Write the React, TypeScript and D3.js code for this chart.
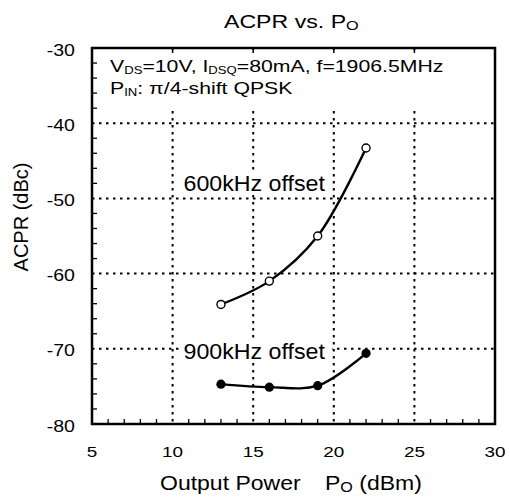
import React from "react";
import * as d3 from "d3";

const xTicks = [5, 10, 15, 20, 25, 30];
const yTicks = [-30, -40, -50, -60, -70, -80];
const po600 = [13, 16, 19, 22];
const acpr600 = [-64.1, -61.0, -55.0, -43.3];
const po900 = [13, 16, 19, 22];
const acpr900 = [-74.7, -75.1, -74.9, -70.6];

const FONT = "'Liberation Sans', Arial, Helvetica, sans-serif";

const X0 = 92, X1 = 495, Y0 = 48, Y1 = 424;

function SText(props: any) {
  const { x, y, sx = 1, anchor = "start", size, children } = props;
  return (
    <g transform={`translate(${x},${y}) scale(${sx},1)`}>
      <text textAnchor={anchor} fontSize={size} fontFamily={FONT} fill="#000">
        {children}
      </text>
    </g>
  );
}

export default function App() {
  const x = d3.scaleLinear().domain([5, 30]).range([X0, X1]);
  const y = d3.scaleLinear().domain([-80, -30]).range([Y1, Y0]);
  const line = d3
    .line<[number, number]>()
    .x((d) => x(d[0]))
    .y((d) => y(d[1]))
    .curve(d3.curveCatmullRom.alpha(0.5));
  const d600 = po600.map((p, i) => [p, acpr600[i]] as [number, number]);
  const d900 = po900.map((p, i) => [p, acpr900[i]] as [number, number]);
  const xMinor = d3.range(6, 30, 1).filter((v) => v % 5 !== 0);
  const yMinor = d3.range(-78, -30, 2).filter((v) => v % 10 !== 0);
  const dash = "2.5,4.5";

  return (
    <svg
      width={510}
      height={499}
      style={{ position: "absolute", left: 0, top: 0, background: "#fff" }}
    >
      <rect x={0} y={0} width={510} height={499} fill="#fff" />
      {xTicks.slice(1, -1).map((t) => (
        <line key={"vg" + t} x1={x(t)} x2={x(t)} y1={Y0} y2={Y1} stroke="#000" strokeWidth={2} strokeDasharray={dash} />
      ))}
      {yTicks.slice(1, -1).map((t) => (
        <line key={"hg" + t} x1={X0} x2={X1} y1={y(t)} y2={y(t)} stroke="#000" strokeWidth={2} strokeDasharray={dash} />
      ))}
      <rect x={X0 + 2} y={Y0 + 2} width={X1 - X0 - 4} height={57} fill="#fff" />
      {xMinor.map((t) => (
        <line key={"xm" + t} x1={x(t)} x2={x(t)} y1={Y1} y2={Y1 - 5} stroke="#000" strokeWidth={1.3} />
      ))}
      {yMinor.map((t) => (
        <line key={"ym" + t} x1={X0} x2={X0 + 5} y1={y(t)} y2={y(t)} stroke="#000" strokeWidth={1.3} />
      ))}
      {xTicks.slice(1, -1).map((t) => (
        <line key={"xt" + t} x1={x(t)} x2={x(t)} y1={Y0} y2={Y0 + 5} stroke="#000" strokeWidth={1.5} />
      ))}
      <rect x={181} y={172} width={151} height={22} fill="#fff" />
      <SText x={183.5} y={190.5} size={21.5} sx={1.08}>600kHz offset</SText>
      <rect x={181} y={340} width={151} height={22} fill="#fff" />
      <SText x={183.5} y={359} size={21.5} sx={1.08}>900kHz offset</SText>
      <path d={line(d600) || ""} fill="none" stroke="#000" strokeWidth={2.4} />
      <path d={line(d900) || ""} fill="none" stroke="#000" strokeWidth={2.4} />
      {d600.map((d, i) => (
        <circle key={"a" + i} cx={x(d[0])} cy={y(d[1])} r={4} fill="#fff" stroke="#000" strokeWidth={1.4} />
      ))}
      {d900.map((d, i) => (
        <circle key={"b" + i} cx={x(d[0])} cy={y(d[1])} r={4.6} fill="#000" />
      ))}
      <rect x={X0} y={Y0} width={X1 - X0} height={Y1 - Y0} fill="none" stroke="#000" strokeWidth={2.5} />
      <SText x={110} y={72} size={17} sx={1.25}>
        V<tspan fontSize={10.5} dy={2}>DS</tspan>
        <tspan dy={-2}>=10V, I</tspan>
        <tspan fontSize={10.5} dy={2}>DSQ</tspan>
        <tspan dy={-2}>=80mA, f=1906.5MHz</tspan>
      </SText>
      <SText x={110} y={93.5} size={17} sx={1.25}>
        P<tspan fontSize={10.5} dy={2}>IN</tspan>
        <tspan dy={-2}>: π/4-shift QPSK</tspan>
      </SText>
      <SText x={224} y={28} size={18.5} sx={1.25}>
        ACPR vs. P<tspan fontSize={13} dy={2}>O</tspan>
      </SText>
      {xTicks.map((t) => (
        <SText key={"xl" + t} x={x(t)} y={456.5} size={15.5} sx={1.22} anchor="middle">
          {String(t)}
        </SText>
      ))}
      {yTicks.map((t) => (
        <SText key={"yl" + t} x={75} y={y(t) + 7.5} size={16.3} sx={1.2} anchor="end">
          {String(t)}
        </SText>
      ))}
      <SText x={160} y={490} size={20} sx={1.15}>Output Power</SText>
      <SText x={325} y={490} size={20} sx={1.15}>
        P<tspan fontSize={14} dy={2}>O</tspan>
        <tspan dy={-2}> (dBm)</tspan>
      </SText>
      <text
        transform="translate(27.5,217) rotate(-90)"
        textAnchor="middle"
        fontSize={20}
        fontFamily={FONT}
        fill="#000"
      >
        ACPR (dBc)
      </text>
    </svg>
  );
}
